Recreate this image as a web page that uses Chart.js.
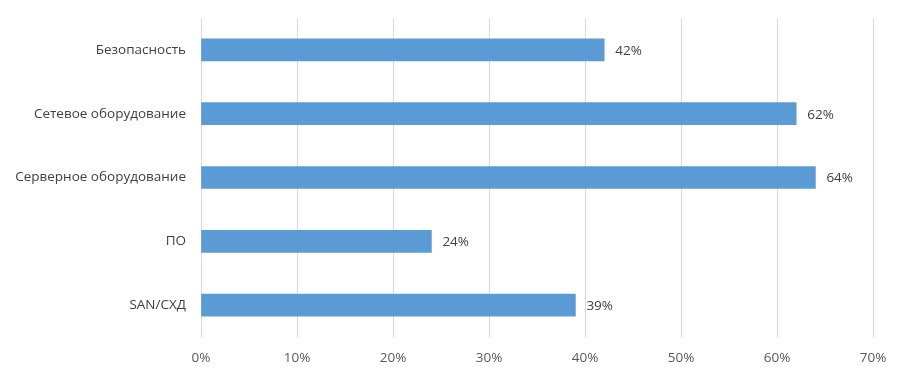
<!DOCTYPE html>
<html>
<head>
<meta charset="utf-8">
<script src="https://cdn.jsdelivr.net/npm/chart.js@4"></script>
<style>
  html, body { margin: 0; padding: 0; background: #fff; }
  #wrap { width: 906px; height: 378px; position: relative; }
</style>
</head>
<body>
<div id="wrap"><canvas id="barChart"></canvas></div>
<script>
const categories = ["Безопасность", "Сетевое оборудование", "Серверное оборудование", "ПО", "SAN/СХД"];
const shares = [42, 62, 64, 24, 39]; // percent
const tickLabels = ["0%", "10%", "20%", "30%", "40%", "50%", "60%", "70%"];

// labels at the end of each bar
const valueLabels = {
  id: "valueLabels",
  afterDatasetsDraw(chart) {
    const ctx = chart.ctx;
    const meta = chart.getDatasetMeta(0);
    ctx.save();
    ctx.font = "13.5px 'Open Sans'";
    ctx.fillStyle = "#404040";
    ctx.textBaseline = "middle";
    meta.data.forEach((bar, i) => {
      ctx.fillText(shares[i] + "%", bar.x + 11, bar.y + 1);
    });
    ctx.restore();
  },
};

const ctx = document.getElementById("barChart").getContext("2d");
new Chart(ctx, {
  type: "bar",
  data: {
    labels: categories,
    datasets: [
      {
        data: shares,
        backgroundColor: "#5B9BD5",
        barThickness: 22,
      },
    ],
  },
  options: {
    indexAxis: "y",
    responsive: true,
    maintainAspectRatio: false,
    animation: false,
    layout: { padding: { top: 18, right: 33, left: 0, bottom: 0 } },
    plugins: {
      legend: { display: false },
      tooltip: { enabled: false },
    },
    scales: {
      x: {
        min: 0,
        max: 70,
        grid: { color: "#d9d9d9", drawTicks: false },
        border: { display: false },
        ticks: {
          stepSize: 10,
          padding: 13,
          color: "#595959",
          font: { family: "'Open Sans'", size: 13.5 },
          callback: (value, i) => tickLabels[i],
        },
        afterFit: (scale) => { scale.height = 41; },
      },
      y: {
        grid: { display: false, drawTicks: false },
        border: { display: false },
        ticks: {
          padding: 15,
          color: "#404040",
          font: { family: "'Open Sans'", size: 13.5 },
        },
        afterFit: (scale) => {
          scale.width = 201;
          scale.paddingTop = 0; // let layout padding decide the top
          scale.paddingBottom = 0;
        },
      },
    },
  },
  plugins: [valueLabels],
});
</script>
</body>
</html>
